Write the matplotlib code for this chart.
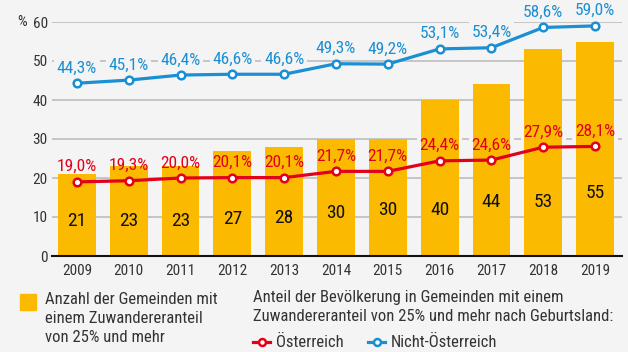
import matplotlib
matplotlib.use("Agg")
import matplotlib.pyplot as plt
from matplotlib.lines import Line2D

plt.rcParams['font.family'] = ['Roboto Condensed', 'Archivo Narrow', 'Roboto', 'DejaVu Sans']

years = [2009, 2010, 2011, 2012, 2013, 2014, 2015, 2016, 2017, 2018, 2019]
gemeinden = [21, 23, 23, 27, 28, 30, 30, 40, 44, 53, 55]
oesterreich = [19.0, 19.3, 20.0, 20.1, 20.1, 21.7, 21.7, 24.4, 24.6, 27.9, 28.1]
nicht_oesterreich = [44.3, 45.1, 46.4, 46.6, 46.6, 49.3, 49.2, 53.1, 53.4, 58.6, 59.0]
# height at which the count is written inside each bar
count_label_y = [9.0, 9.0, 9.0, 9.5, 9.7, 11.0, 11.8, 11.8, 13.8, 13.8, 16.1]

bg = '#f4f4f4'
yellow = '#fbba00'
red = '#e2001a'
blue = '#1b8fd4'
text_col = '#333333'

fig = plt.figure(figsize=(6.28, 3.52), dpi=100, facecolor=bg)
ax = fig.add_axes([52 / 628, 96 / 352, 570 / 628, 234 / 352], facecolor=bg)

x = list(range(len(years)))
ax.bar(x, gemeinden, width=0.73, color=yellow, zorder=2)
for xi, v, ly in zip(x, gemeinden, count_label_y):
    ax.text(xi, ly, str(v), ha='center', va='center', fontsize=14,
            color='#111111', zorder=5)

for vals, col in [(oesterreich, red), (nicht_oesterreich, blue)]:
    ax.plot(x, vals, color=col, lw=2.3, marker='o', ms=5.5,
            mfc='white', mec=col, mew=1.8, zorder=4, clip_on=False)
    for xi, v in zip(x, vals):
        s = f"{v:.1f}%".replace('.', ',')
        kw = dict(xy=(xi, v), xytext=(0, 5.5), textcoords='offset points',
                  ha='center', va='bottom', fontsize=12.5,
                  annotation_clip=False)
        # blank copy under the bars that only breaks the gridlines
        ax.annotate(s, color='none', zorder=1,
                    bbox=dict(boxstyle='square,pad=0.15', fc=bg, ec='none'), **kw)
        ax.annotate(s, color=col, zorder=6, **kw)

ax.set_xlim(-0.48, 10.52)
ax.set_ylim(0, 60)
ax.set_yticks(range(0, 61, 10))
ax.set_xticks(x)
ax.set_xticklabels([str(y) for y in years])
ax.grid(axis='y', color='#bdbdbd', lw=1.2, zorder=0)
ax.set_axisbelow(True)
for s in ['top', 'right', 'left']:
    ax.spines[s].set_visible(False)
ax.spines['bottom'].set_color('#111111')
ax.spines['bottom'].set_linewidth(1.5)
ax.spines['bottom'].set_zorder(3)
ax.tick_params(axis='both', length=0, labelsize=11, colors=text_col)
ax.tick_params(axis='x', pad=6)
ax.tick_params(axis='y', pad=3)
fig.text(22 / 628, 1 - 22 / 352, '%', ha='center', va='center',
         fontsize=11, color=text_col)

# legend block below the chart
fig.patches.append(plt.Rectangle((20 / 628, 1 - 310 / 352), 16 / 628, 16 / 352,
                                 transform=fig.transFigure, color=yellow))
fig.text(45 / 628, 1 - 292 / 352,
         'Anzahl der Gemeinden mit\neinem Zuwandereranteil\nvon 25% und mehr',
         ha='left', va='top', fontsize=12, color=text_col, linespacing=1.32)
fig.text(253 / 628, 1 - 290 / 352,
         'Anteil der Bevölkerung in Gemeinden mit einem\n'
         'Zuwandereranteil von 25% und mehr nach Geburtsland:',
         ha='left', va='top', fontsize=12, color=text_col, linespacing=1.32)
for x0, col, label in [(253, red, 'Österreich'), (368, blue, 'Nicht-Österreich')]:
    fig.lines.append(Line2D([x0 / 628, (x0 + 17) / 628], [1 - 342 / 352] * 2,
                            transform=fig.transFigure, color=col, lw=2.3))
    fig.lines.append(Line2D([(x0 + 8.5) / 628], [1 - 342 / 352],
                            transform=fig.transFigure, color=col, marker='o',
                            ms=5, mfc='white', mec=col, mew=1.8, lw=0))
    fig.text((x0 + 23) / 628, 1 - 342 / 352, label, ha='left', va='center',
             fontsize=12, color=text_col)

fig.savefig('out.png', dpi=100, facecolor=bg)
